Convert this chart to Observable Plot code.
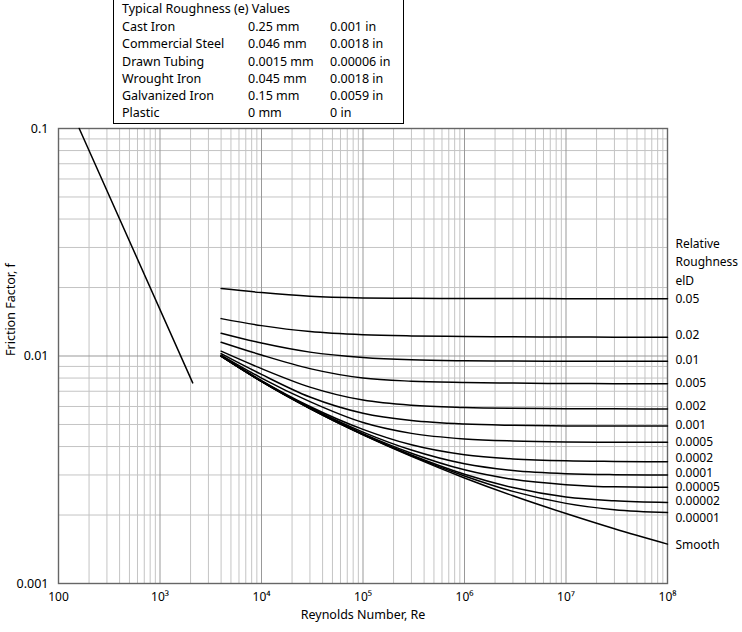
<!DOCTYPE html>
<html>
<head>
<meta charset="utf-8">
<script src="https://cdn.jsdelivr.net/npm/d3@7"></script>
<script src="https://cdn.jsdelivr.net/npm/@observablehq/plot@0.6"></script>
<style>
  html, body { margin: 0; padding: 0; background: #fff; }
  #wrap { position: relative; width: 742px; height: 632px; font-family: "Noto Sans", sans-serif; color: #000; }
  #box { position: absolute; left: 113px; top: 0; width: 291px; height: 124px; box-sizing: border-box;
         border-left: 1px solid #000; border-right: 1px solid #000; border-bottom: 1px solid #000; background: #fff; }
  #box span { position: absolute; font-size: 12.5px; line-height: 16px; white-space: nowrap; }
</style>
</head>
<body>
<div id="wrap">
  <div id="chart"></div>
  <div id="box"></div>
</div>
<script>
// ---- tick labels ----
const xTicks = [1e2, 1e3, 1e4, 1e5, 1e6, 1e7, 1e8];
const xTickLabels = ["100", "10³", "10⁴", "10⁵", "10⁶", "10⁷", "10⁸"];
const yTicks = [0.001, 0.01, 0.1];
const yTickLabels = ["0.001", "0.01", "0.1"];

// ---- laminar line (f = 16/Re) ----
const laminarRe = [160, 2100];
const laminarF = [0.1, 0.00762];

// ---- turbulent curves: Reynolds numbers and Fanning friction factors ----
const turbRe = [4000, 10000, 30000, 100000, 300000, 1e6, 3e6, 1e7, 3e7, 1e8];
const f_0_05    = [0.0198, 0.0190, 0.0183, 0.0180, 0.01792, 0.01789, 0.01788, 0.01787, 0.01786, 0.01786];
const f_0_02    = [0.0146, 0.0136, 0.0128, 0.0124, 0.01225, 0.01218, 0.01214, 0.01212, 0.01210, 0.01209];
const f_0_01    = [0.0126, 0.0114, 0.0104, 0.00985, 0.00962, 0.00953, 0.00950, 0.00948, 0.00948, 0.00948];
const f_0_005   = [0.0115, 0.0101, 0.0088, 0.0080, 0.00775, 0.00765, 0.00760, 0.00757, 0.00756, 0.00755];
const f_0_002   = [0.0105, 0.0088, 0.0073, 0.0064, 0.00607, 0.00594, 0.00589, 0.00587, 0.00586, 0.00585];
const f_0_001   = [0.01025, 0.0083, 0.0066, 0.0056, 0.00520, 0.00502, 0.00496, 0.00493, 0.00492, 0.00492];
const f_0_0005  = [0.0101, 0.0080, 0.0063, 0.0051, 0.00457, 0.00432, 0.00423, 0.00419, 0.00418, 0.00418];
const f_0_0002  = [0.01003, 0.0078, 0.0060, 0.00476, 0.00407, 0.00368, 0.00353, 0.00346, 0.00344, 0.00343];
const f_0_0001  = [0.0100, 0.00776, 0.00594, 0.00463, 0.00386, 0.00336, 0.00314, 0.00304, 0.00301, 0.00300];
const f_0_00005 = [0.00999, 0.00774, 0.00591, 0.00456, 0.00374, 0.00316, 0.00287, 0.00272, 0.00266, 0.00265];
const f_0_00002 = [0.00998, 0.00773, 0.00589, 0.00452, 0.00367, 0.00302, 0.00264, 0.00240, 0.00231, 0.00227];
const f_0_00001 = [0.00998, 0.00773, 0.00588, 0.00451, 0.00364, 0.00297, 0.00254, 0.00225, 0.00211, 0.00205];
const f_smooth  = [0.00998, 0.00772, 0.00587, 0.00450, 0.00362, 0.00291, 0.00243, 0.00203, 0.00174, 0.00149];

// ---- right-hand labels (text and the friction-factor level they sit at) ----
const curveLabels = ["Relative", "Roughness", "elD", "0.05", "0.02", "0.01", "0.005", "0.002", "0.001",
                     "0.0005", "0.0002", "0.0001", "0.00005", "0.00002", "0.00001", "Smooth"];
const curveLabelF = [0.03103, 0.02595, 0.02141, 0.0178, 0.01237, 0.00954, 0.00761, 0.00602, 0.00498,
                     0.00418, 0.00355, 0.00307, 0.00264, 0.00230, 0.00194, 0.00148];

// ---- roughness table ----
const tableTitle = "Typical Roughness (e) Values";
const materials = ["Cast Iron", "Commercial Steel", "Drawn Tubing", "Wrought Iron", "Galvanized Iron", "Plastic"];
const roughnessMm = ["0.25 mm", "0.046 mm", "0.0015 mm", "0.045 mm", "0.15 mm", "0 mm"];
const roughnessIn = ["0.001 in", "0.0018 in", "0.00006 in", "0.0018 in", "0.0059 in", "0 in"];

// ---- build tables for the library ----
const laminar = laminarRe.map((Re, i) => ({Re, f: laminarF[i]}));
const series = [f_0_05, f_0_02, f_0_01, f_0_005, f_0_002, f_0_001, f_0_0005, f_0_0002,
                f_0_0001, f_0_00005, f_0_00002, f_0_00001, f_smooth];
const turbulent = series.flatMap((vals, k) => vals.map((f, i) => ({name: k, Re: turbRe[i], f})));
const labelRows = curveLabels.map((t, i) => ({t, f: curveLabelF[i], Re: 1e8}));

// grid lines
const minorX = [], majorX = [];
for (let e = 2; e <= 8; e++) { majorX.push(10 ** e); if (e < 8) for (let m = 2; m <= 9; m++) minorX.push(m * 10 ** e); }
const minorY = [], majorY = [0.001, 0.01, 0.1];
for (let e = -3; e <= -2; e++) for (let m = 2; m <= 9; m++) minorY.push(m * 10 ** e);

const chart = Plot.plot({
  width: 742,
  height: 632,
  marginLeft: 58,
  marginRight: 75,
  marginTop: 128,
  marginBottom: 49,
  style: {fontFamily: "Noto Sans, sans-serif", fontSize: "12.5px", color: "#000", background: "#fff", overflow: "visible"},
  x: {type: "log", domain: [100, 1e8]},
  y: {type: "log", domain: [0.001, 0.1]},
  marks: [
    Plot.ruleX(minorX, {stroke: "#c4c4c4", strokeWidth: 1}),
    Plot.ruleY(minorY, {stroke: "#c4c4c4", strokeWidth: 1}),
    Plot.ruleX(majorX, {stroke: "#999", strokeWidth: 1}),
    Plot.ruleY(majorY, {stroke: "#999", strokeWidth: 1}),
    Plot.frame({stroke: "#666", strokeWidth: 1.4}),
    Plot.line(laminar, {x: "Re", y: "f", stroke: "#000", strokeWidth: 1.5}),
    Plot.line(turbulent, {x: "Re", y: "f", z: "name", stroke: "#000", strokeWidth: 1.5, curve: "monotone-x"}),
    Plot.text(labelRows, {x: "Re", y: "f", text: "t", textAnchor: "start", dx: 8, fill: "#000", fontSize: 12}),
    Plot.axisX(xTicks, {tickSize: 0, tickPadding: 9, tickFormat: d => xTickLabels[xTicks.indexOf(d)], label: null, fontSize: 12}),
    Plot.axisY(yTicks, {tickSize: 0, tickPadding: 10, tickFormat: d => yTickLabels[yTicks.indexOf(d)], label: null, fontSize: 12.5}),
    Plot.text(["Reynolds Number, Re"], {frameAnchor: "bottom", dy: 31, lineAnchor: "middle", fontSize: 12.5}),
    Plot.text(["Friction Factor, f"], {frameAnchor: "left", dx: -48, rotate: -90, fontSize: 12.5})
  ]
});
document.getElementById("chart").appendChild(chart);

// roughness box
const box = document.getElementById("box");
function addSpan(text, left, center) {
  const s = document.createElement("span");
  s.textContent = text;
  s.style.left = left + "px";
  s.style.top = (center - 8) + "px";
  box.appendChild(s);
}
addSpan(tableTitle, 8, 9);
const rowCenters = [26.5, 44, 61.5, 78.5, 96, 113];
materials.forEach((m, i) => {
  addSpan(m, 8, rowCenters[i]);
  addSpan(roughnessMm[i], 134, rowCenters[i]);
  addSpan(roughnessIn[i], 216, rowCenters[i]);
});
</script>
</body>
</html>
